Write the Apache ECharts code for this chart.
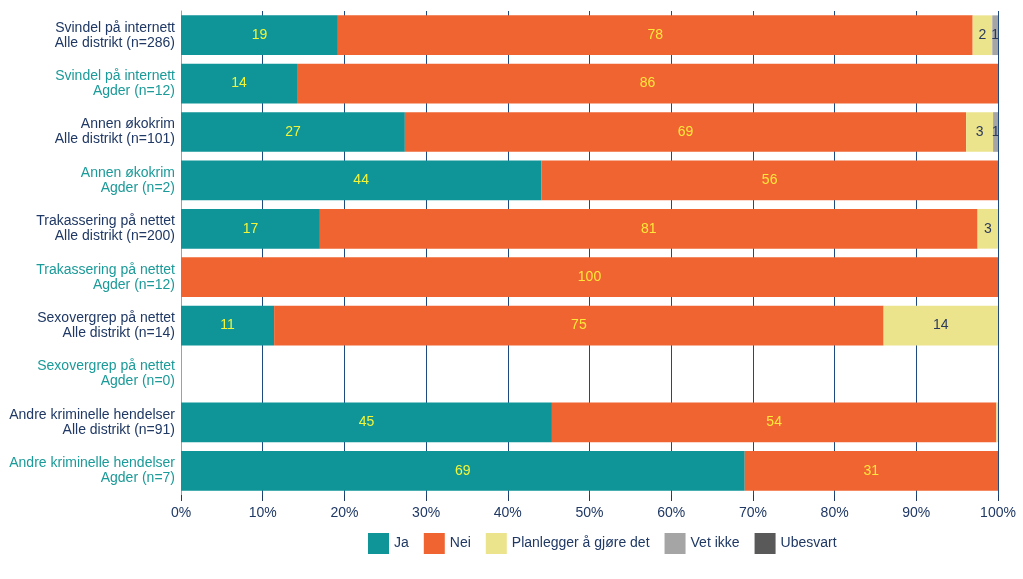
<!DOCTYPE html>
<html><head><meta charset="utf-8">
<script src="https://cdn.jsdelivr.net/npm/echarts@6/dist/echarts.min.js"></script>
<style>html,body{margin:0;padding:0;background:#fff}#c{width:1023px;height:579px}</style>
</head><body><div id="c"></div>
<script>
const categories = [
  "Svindel på internett\nAlle distrikt (n=286)",
  "Svindel på internett\nAgder (n=12)",
  "Annen økokrim\nAlle distrikt (n=101)",
  "Annen økokrim\nAgder (n=2)",
  "Trakassering på nettet\nAlle distrikt (n=200)",
  "Trakassering på nettet\nAgder (n=12)",
  "Sexovergrep på nettet\nAlle distrikt (n=14)",
  "Sexovergrep på nettet\nAgder (n=0)",
  "Andre kriminelle hendelser\nAlle distrikt (n=91)",
  "Andre kriminelle hendelser\nAgder (n=7)"
];
const seriesNames = ["Ja", "Nei", "Planlegger å gjøre det", "Vet ikke", "Ubesvart"];
const ja         = [19.2, 14.2, 27.4, 44.1, 17.0, 0,   11.4, null, 45.4, 69.0];
const nei        = [77.7, 85.8, 68.7, 55.9, 80.5, 100, 74.6, null, 54.4, 31.0];
const planlegger = [2.4,  0,    3.3,  0,    2.5,  0,   14.0, null, 0.2,  0];
const vetIkke    = [0.7,  0,    0.6,  0,    0,    0,   0,    null, 0,    0];
const ubesvart   = [0,    0,    0,    0,    0,    0,   0,    null, 0,    0];
const xTicks = [0, 10, 20, 30, 40, 50, 60, 70, 80, 90, 100];

const colors = ["#0f9598", "#ef6431", "#ece48c", "#a5a5a5", "#595959"];
const labelColors = ["#f2f53a", "#ffe83a", "#2b3a5c", "#2b3a5c", "#ffffff"];
const catColors = ["#1f3864", "#1a9a98"];
const values = [ja, nei, planlegger, vetIkke, ubesvart];
const FONT = 'Liberation Sans, Arial, sans-serif';

const chart = echarts.init(document.getElementById('c'), null, {renderer: 'canvas'});
chart.setOption({
  animation: false,
  color: colors,
  grid: {left: 181, right: 25, top: 11, bottom: 84, containLabel: false},
  legend: {
    top: 528, left: 363, itemWidth: 21, itemHeight: 21, itemGap: 15,
    icon: 'rect',
    textStyle: {color: '#1f3864', fontSize: 14, fontFamily: FONT},
    data: seriesNames
  },
  xAxis: {
    type: 'value', min: 0, max: 100, interval: 10,
    axisLine: {show: false},
    axisTick: {show: true, length: 6, lineStyle: {color: '#1f3864'}},
    splitLine: {show: true, lineStyle: {color: '#1f4a80', width: 1}},
    axisLabel: {color: '#1f3864', fontSize: 14, margin: 11, fontFamily: FONT,
      formatter: v => xTicks.includes(v) ? v + '%' : ''}
  },
  yAxis: {
    type: 'category', inverse: true,
    data: categories.map((c, i) => ({value: c, textStyle: {color: catColors[i % 2]}})),
    axisLine: {show: true, lineStyle: {color: '#a0a0a0'}},
    axisTick: {show: false},
    axisLabel: {fontSize: 14, lineHeight: 15, margin: 6, padding: [4, 0, 0, 0], fontFamily: FONT, align: 'right'}
  },
  series: seriesNames.map((name, si) => ({
    name, type: 'bar', stack: 'total', barCategoryGap: '18%',
    data: values[si],
    itemStyle: {color: colors[si]},
    label: {
      show: true, position: 'inside', color: labelColors[si], fontSize: 14,
      fontFamily: FONT,
      formatter: p => { const r = Math.round(p.value); return (p.value && r >= 1) ? String(r) : ''; }
    }
  }))
});
</script></body></html>
